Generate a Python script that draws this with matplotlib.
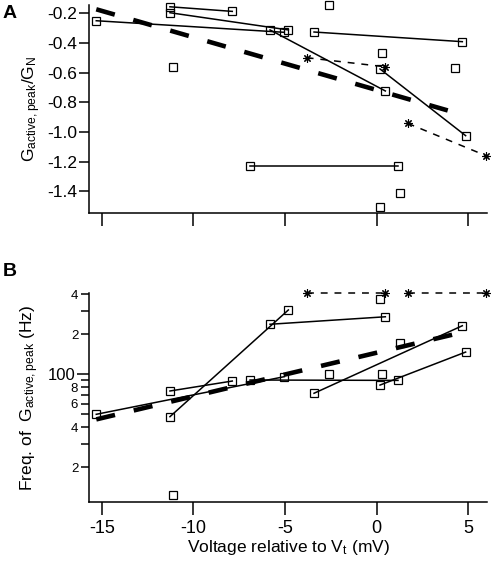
import numpy as np
import matplotlib
matplotlib.use('Agg')
import matplotlib.pyplot as plt
from matplotlib.ticker import FixedLocator, FixedFormatter

plt.rcParams['font.family'] = ['Liberation Sans', 'DejaVu Sans']
plt.rcParams['mathtext.default'] = 'regular'

# Paired cells (voltage, A: Gactive/GN, B: frequency in Hz)
cell_x = [[-15.3, -5.04], [-11.28, -7.88], [-11.28, -4.82], [-5.82, 0.47],
          [-3.42, 4.67], [-6.91, 1.16], [0.18, 4.85]]
cell_a = [[-0.25, -0.328], [-0.156, -0.187], [-0.196, -0.312], [-0.312, -0.723],
          [-0.326, -0.391], [-1.226, -1.226], [-0.575, -1.024]]
cell_b = [[50, 96], [74.9, 89], [48, 305], [238, 271],
          [72, 232], [90.6, 90], [83, 147]]

# Unpaired cells (nan = not visible in B)
single_x = [-11.1, -2.62, 0.29, 4.27, 1.27, 0.18]
single_a = [-0.56, -0.142, -0.465, -0.566, -1.408, -1.502]
single_b = [12.4, 100, 100, np.nan, 173, 371]

# Star cells (dashed pairs)
star_x = [[-3.82, 0.45], [1.69, 5.96]]
star_a = [[-0.499, -0.56], [-0.941, -1.159]]
star_b = [[410, 410], [410, 410]]

# Population fits
fit_x_a = [-15.3, 4.6]
fit_a = [-0.173, -0.88]
fit_x_b = [-15.3, 4.8]
fit_b = [45.8, 209]

xticks = [-15, -10, -5, 0, 5]

W, H = 492, 564
fig = plt.figure(figsize=(W / 100, H / 100), dpi=100)
axA = fig.add_axes([89.3 / W, 1 - 213.3 / H, 397.4 / W, 208.6 / H])
axB = fig.add_axes([89.3 / W, 1 - 501.7 / H, 397.4 / W, 208.4 / H])

sq = dict(marker='s', ms=5.5, mfc='none', mec='black', mew=0.9, clip_on=False)
st = dict(marker=(8, 2, 0), ms=6, mec='black', mew=0.8, clip_on=False)


def draw(ax, cy, sy, sty, fx, fy):
    for xs, ys in zip(cell_x, cy):
        ax.plot(xs, ys, color='black', lw=1.1, zorder=3, **sq)
    ax.plot(single_x, sy, ls='none', zorder=2, **sq)
    for xs, ys in zip(star_x, sty):
        ax.plot(xs, ys, color='black', lw=1.1, ls=(0, (4.5, 4.5)), zorder=3, **st)
    ax.plot(fx, fy, color='black', lw=3.3, ls=(0, (4.2, 4.2)),
            dash_capstyle='butt', zorder=4)
    for s in ['top', 'right']:
        ax.spines[s].set_visible(False)
    for s in ['left', 'bottom']:
        ax.spines[s].set_linewidth(1.1)
    ax.set_xlim(-15.68, 6.0)
    ax.set_xticks(xticks)
    ax.tick_params(axis='x', direction='out', length=9.5, width=1.1)
    ax.tick_params(axis='y', direction='out', width=1.1)


draw(axA, cell_a, single_a, star_a, fit_x_a, fit_a)
axA.set_ylim(-1.547, -0.142)
axA.set_yticks([-0.2, -0.4, -0.6, -0.8, -1.0, -1.2, -1.4])
axA.set_yticklabels(['-0.2', '-0.4', '-0.6', '-0.8', '-1.0', '-1.2', '-1.4'])
axA.tick_params(axis='y', length=7, labelsize=12.5, pad=2)
axA.set_xticklabels([])
axA.set_ylabel(r'G$_{active,peak}$/G$_N$', fontsize=12.5, labelpad=3)

draw(axB, cell_b, single_b, star_b, fit_x_b, fit_b)
axB.set_yscale('log')
axB.set_ylim(11.0, 407)
axB.yaxis.set_major_locator(FixedLocator([100]))
axB.yaxis.set_major_formatter(FixedFormatter(['100']))
minor = [20, 30, 40, 50, 60, 70, 80, 90, 200, 300, 400]
axB.yaxis.set_minor_locator(FixedLocator(minor))
axB.yaxis.set_minor_formatter(FixedFormatter(['2', '', '4', '', '6', '', '8', '', '2', '', '4']))
axB.tick_params(axis='y', which='major', length=9, labelsize=12, pad=1)
axB.tick_params(axis='y', which='minor', direction='out', length=6, width=1.1, labelsize=9.5, pad=2)
axB.set_xticklabels([str(t) for t in xticks], fontsize=13)
axB.set_ylabel(r'Freq. of  G$_{active,peak}$ (Hz)', fontsize=12.5, labelpad=5)
axB.set_xlabel(r'Voltage relative to V$_t$ (mV)', fontsize=12.5, labelpad=1)

fig.text(3 / W, 1 - 18 / H, 'A', fontsize=14, fontweight='bold')
fig.text(3 / W, 1 - 276 / H, 'B', fontsize=14, fontweight='bold')

fig.savefig('out.png', dpi=100)
